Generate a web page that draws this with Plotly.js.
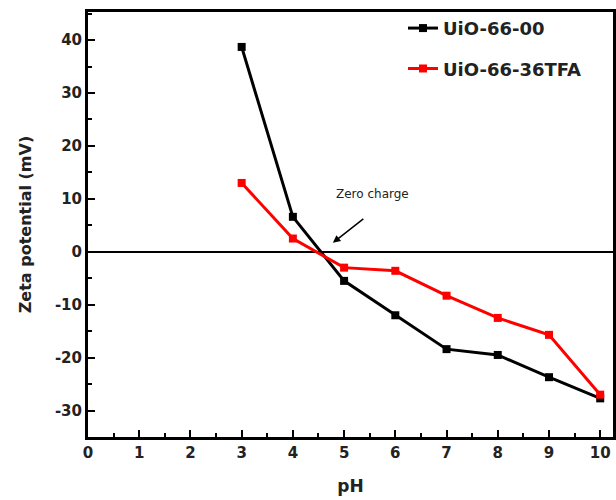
<!DOCTYPE html>
<html><head><meta charset="utf-8">
<script src="https://cdn.plot.ly/plotly-3.0.1.min.js"></script>
<style>body{margin:0;background:#fff}#c{width:616px;height:500px}</style>
</head><body><div id="c"></div>
<script>
const pH = [3, 4, 5, 6, 7, 8, 9, 10];
const uio00 = [38.7, 6.6, -5.5, -12, -18.4, -19.5, -23.7, -27.7];
const uio36TFA = [13, 2.5, -3, -3.6, -8.3, -12.5, -15.7, -27];
const seriesNames = ["UiO-66-00", "UiO-66-36TFA"];
const xTicks = [0,1,2,3,4,5,6,7,8,9,10];
const yTicks = [-30,-20,-10,0,10,20,30,40];

const fnt = {family: "DejaVu Sans", size: 15, color: "#222", weight: "bold"};
const traces = [
  {x: pH, y: uio00, name: seriesNames[0], legendgroup: "a", mode: "lines+markers",
   line: {color: "#000", width: 3}, marker: {symbol: "square", size: 8, color: "#000"}},
  {x: pH, y: uio36TFA, name: seriesNames[1], legendgroup: "b", mode: "lines+markers",
   line: {color: "#ff0000", width: 3}, marker: {symbol: "square", size: 8, color: "#ff0000"}}
];
const layout = {
  width: 616, height: 500,
  margin: {l: 88, r: 3, t: 12, b: 63},
  paper_bgcolor: "#fff", plot_bgcolor: "#fff",
  showlegend: true,
  legend: {x: 0.6, y: 1.005, xanchor: "left", yanchor: "top", bgcolor: "rgba(0,0,0,0)",
    font: {family: "DejaVu Sans", size: 18, color: "#222", weight: "bold"}, tracegroupgap: 14},
  xaxis: {range: [0, 10.25], tickvals: xTicks, ticktext: xTicks.map(String),
    ticks: "inside", ticklen: 7, tickwidth: 2, tickcolor: "#000",
    minor: {dtick: 0.5, tick0: 0, ticks: "inside", ticklen: 4, tickwidth: 2, tickcolor: "#000"},
    showline: true, linewidth: 3, linecolor: "#000", mirror: true, showgrid: false, zeroline: false,
    tickfont: fnt,
    title: {text: "pH", font: {family: "DejaVu Sans", size: 17, color: "#222", weight: "bold"}, standoff: 20}},
  yaxis: {range: [-35, 45.3], tickvals: yTicks, ticktext: yTicks.map(String),
    ticks: "inside", ticklen: 7, tickwidth: 2, tickcolor: "#000",
    minor: {dtick: 5, ticks: "inside", ticklen: 4, tickwidth: 2, tickcolor: "#000"},
    showline: true, linewidth: 3, linecolor: "#000", mirror: true, showgrid: false,
    zeroline: true, zerolinecolor: "#000", zerolinewidth: 2.5,
    tickfont: fnt,
    title: {text: "Zeta potential (mV)", font: {family: "DejaVu Sans", size: 16, color: "#222", weight: "bold"}, standoff: 20}},
  annotations: [
    {x: 4.78, y: 1.7, xref: "x", yref: "y", text: "",
     showarrow: true, arrowhead: 2, arrowsize: 1, arrowwidth: 1.5, arrowcolor: "#000", ax: 32, ay: -25},
    {x: 5.55, y: 11, xref: "x", yref: "y", text: "Zero charge", showarrow: false,
     font: {family: "DejaVu Sans", size: 12, color: "#222"}}
  ]
};
Plotly.newPlot("c", traces, layout, {staticPlot: true});
</script></body></html>
